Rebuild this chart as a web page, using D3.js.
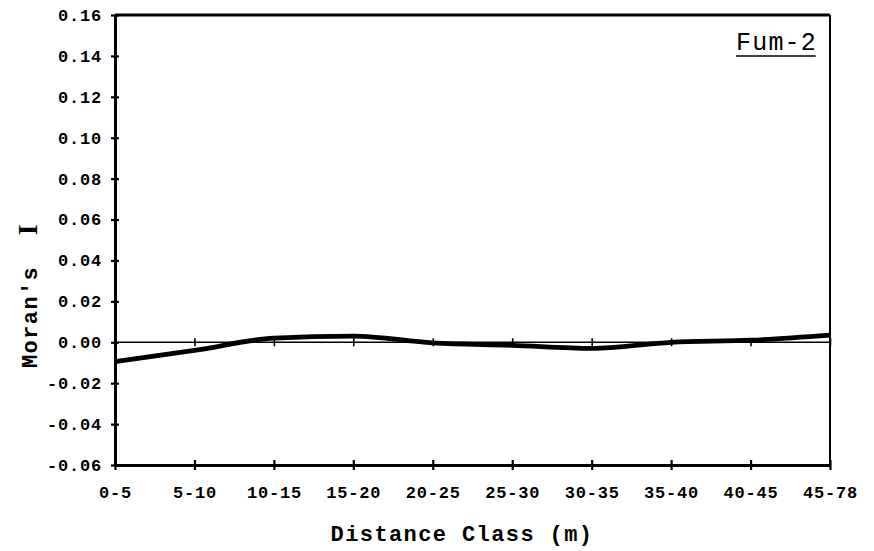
<!DOCTYPE html>
<html>
<head>
<meta charset="utf-8">
<script src="https://cdn.jsdelivr.net/npm/d3@7"></script>
<style>
  html, body { margin: 0; padding: 0; background: #fff; }
  svg { display: block; }
  text { font-family: "Liberation Mono", "DejaVu Sans Mono", monospace; fill: #000; }
</style>
</head>
<body>
<svg id="chart" width="874" height="551"></svg>
<script>
// Moran's I correlogram for Fum-2, by distance class
const distanceClasses = ["0-5", "5-10", "10-15", "15-20", "20-25", "25-30", "30-35", "35-40", "40-45", "45-78"];
const moransI = [-0.0095, -0.004, 0.002, 0.003, -0.0003, -0.0015, -0.003, 0.0, 0.001, 0.0035];
const yTicks = [0.16, 0.14, 0.12, 0.10, 0.08, 0.06, 0.04, 0.02, 0.00, -0.02, -0.04, -0.06];

const svg = d3.select("#chart");
const m = { left: 115, right: 830, top: 15, bottom: 465 };

const x = d3.scalePoint().domain(distanceClasses).range([m.left, m.right]);
const y = d3.scaleLinear().domain([-0.06, 0.16]).range([m.bottom, m.top]);

// frame: top and right edges
svg.append("line").attr("x1", m.left).attr("x2", m.right).attr("y1", m.top).attr("y2", m.top)
  .attr("stroke", "#000").attr("stroke-width", 3);
svg.append("line").attr("x1", m.right).attr("x2", m.right).attr("y1", m.top).attr("y2", m.bottom)
  .attr("stroke", "#000").attr("stroke-width", 2);

// zero reference line
svg.append("line").attr("x1", m.left).attr("x2", m.right).attr("y1", y(0)).attr("y2", y(0))
  .attr("stroke", "#000").attr("stroke-width", 1.6);

const tickFont = sel => sel.attr("font-size", 17).attr("font-weight", "bold")
  .attr("letter-spacing", 0.8).attr("font-family", "Liberation Mono, monospace");

// y axis
const yAxis = svg.append("g").attr("transform", `translate(${m.left},0)`)
  .call(d3.axisLeft(y).tickValues(yTicks).tickSize(0).tickPadding(13)
    .tickFormat(d => (d < 0 ? "-" : "") + Math.abs(d).toFixed(2)));
yAxis.select(".domain").attr("stroke", "#000").attr("stroke-width", 3);
yAxis.selectAll(".tick line").remove();
yAxis.selectAll(".tick").append("line").attr("x1", -4).attr("x2", 4)
  .attr("stroke", "#000").attr("stroke-width", 2.2);
yAxis.selectAll(".tick text").call(tickFont);

// x axis
const xAxis = svg.append("g").attr("transform", `translate(0,${m.bottom})`)
  .call(d3.axisBottom(x).tickSize(0).tickPadding(21));
xAxis.select(".domain").attr("stroke", "#000").attr("stroke-width", 3);
xAxis.selectAll(".tick line").remove();
xAxis.selectAll(".tick").append("line").attr("y1", -5).attr("y2", 5)
  .attr("stroke", "#000").attr("stroke-width", 2.2);
xAxis.selectAll(".tick").append("line").attr("y1", y(0) - m.bottom - 4).attr("y2", y(0) - m.bottom + 4)
  .attr("stroke", "#000").attr("stroke-width", 1.6);
xAxis.selectAll(".tick text").call(tickFont);

// correlogram line
const line = d3.line().x((d, i) => x(distanceClasses[i])).y(d => y(d)).curve(d3.curveMonotoneX);
svg.append("path").datum(moransI).attr("d", line)
  .attr("fill", "none").attr("stroke", "#000").attr("stroke-width", 4.8).attr("stroke-linejoin", "round");

// axis titles
svg.append("text").attr("x", 462).attr("y", 541).attr("text-anchor", "middle")
  .attr("font-size", 22).attr("font-weight", "bold").attr("letter-spacing", 1.4)
  .text("Distance Class (m)");

const yTitle = svg.append("text").attr("transform", "translate(37,368) rotate(-90)")
  .attr("font-size", 22).attr("font-weight", "bold").attr("letter-spacing", 1.4);
yTitle.append("tspan").text("Moran's ");
yTitle.append("tspan").attr("font-family", "Liberation Serif, serif").attr("font-size", 28)
  .attr("dx", 16).text("I");

// panel label
const label = svg.append("text").attr("x", 817).attr("y", 50).attr("text-anchor", "end")
  .attr("font-size", 25).attr("letter-spacing", 1.2).text("Fum-2");
const bb = label.node().getBBox();
svg.append("line").attr("x1", bb.x).attr("x2", bb.x + bb.width - 1.2).attr("y1", 56).attr("y2", 56)
  .attr("stroke", "#000").attr("stroke-width", 1.6);
</script>
</body>
</html>
